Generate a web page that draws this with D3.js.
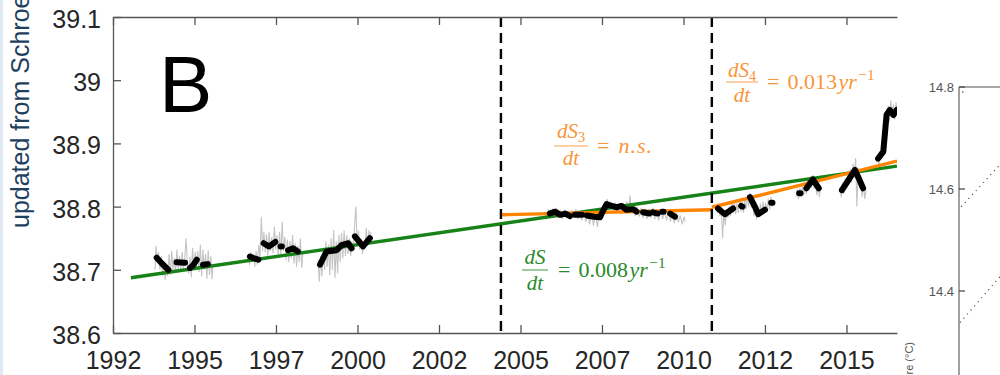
<!DOCTYPE html>
<html><head><meta charset="utf-8">
<script src="https://cdn.jsdelivr.net/npm/d3@7"></script>
<style>
html,body{margin:0;padding:0;background:#fff;}
svg{display:block;}
</style></head><body>
<svg id="chart" width="1000" height="375"></svg>
<script>
// ---------- DATA ----------
const xTickValues = [1992, 1994.5, 1997, 1999.5, 2002, 2004.5, 2007, 2009.5, 2012, 2014.5];
const xTickLabels = ["1992","1995","1997","2000","2002","2005","2007","2010","2012","2015"];
const yTickValues = [38.6, 38.7, 38.8, 38.9, 39.0, 39.1];
const yTickLabels = ["38.6","38.7","38.8","38.9","39","39.1"];
const breakYears = [2003.9, 2010.37];

// raw (thin grey) salinity record, null = gap
const rawSalinity = [
 [1993.29,38.700],[1993.32,38.738],[1993.36,38.712],[1993.40,38.728],[1993.44,38.700],[1993.48,38.722],[1993.52,38.690],[1993.56,38.712],
 [1993.60,38.684],[1993.64,38.705],[1993.68,38.690],[1993.72,38.725],[1993.76,38.692],[1993.80,38.730],[1993.84,38.700],[1993.88,38.718],
 [1993.92,38.695],[1993.96,38.732],[1994.00,38.700],[1994.04,38.722],[1994.08,38.698],[1994.12,38.728],[1994.16,38.702],[1994.20,38.718],
 [1994.24,38.750],[1994.28,38.712],[1994.32,38.694],[1994.36,38.720],[1994.40,38.688],[1994.44,38.735],[1994.48,38.700],[1994.52,38.728],
 [1994.56,38.705],[1994.60,38.730],[1994.64,38.696],[1994.68,38.740],[1994.72,38.690],[1994.76,38.732],[1994.80,38.700],[1994.84,38.725],
 [1994.88,38.686],[1994.92,38.731],[1994.96,38.692],[1995.00,38.722],[1995.04,38.685],[1995.07,38.710],
 null,
 [1996.15,38.722],[1996.19,38.708],[1996.23,38.728],[1996.27,38.712],[1996.31,38.725],[1996.35,38.705],[1996.39,38.730],[1996.43,38.708],
 [1996.47,38.740],[1996.51,38.720],[1996.55,38.784],[1996.59,38.730],[1996.63,38.760],[1996.67,38.728],[1996.71,38.756],[1996.75,38.722],
 [1996.79,38.760],[1996.83,38.730],[1996.87,38.752],[1996.91,38.726],[1996.95,38.768],[1996.99,38.732],[1997.03,38.755],[1997.07,38.720],
 [1997.11,38.760],[1997.15,38.722],[1997.19,38.776],[1997.23,38.730],[1997.27,38.752],[1997.31,38.715],[1997.35,38.748],[1997.39,38.712],
 [1997.43,38.745],[1997.47,38.718],[1997.51,38.755],[1997.55,38.710],[1997.59,38.742],[1997.63,38.705],[1997.67,38.738],[1997.71,38.712],
 [1997.75,38.750],[1997.79,38.703],[1997.83,38.730],
 null,
 [1998.29,38.715],[1998.33,38.681],[1998.37,38.722],[1998.41,38.690],[1998.45,38.735],[1998.49,38.700],[1998.53,38.745],[1998.57,38.705],
 [1998.61,38.740],[1998.65,38.692],[1998.69,38.750],[1998.73,38.700],[1998.77,38.763],[1998.81,38.687],[1998.85,38.745],[1998.89,38.694],
 [1998.93,38.755],[1998.97,38.712],[1999.01,38.758],[1999.05,38.718],[1999.09,38.762],[1999.13,38.722],[1999.17,38.755],[1999.21,38.725],
 [1999.25,38.750],[1999.29,38.722],[1999.33,38.745],[1999.37,38.730],[1999.41,38.770],[1999.45,38.800],[1999.49,38.740],[1999.53,38.762],
 [1999.57,38.732],[1999.61,38.750],[1999.65,38.725],[1999.69,38.742],[1999.73,38.735],[1999.77,38.766],[1999.81,38.738],[1999.85,38.762],
 [1999.89,38.742],[1999.91,38.760],
 null,
 [2005.25,38.790],[2005.30,38.782],[2005.36,38.796],[2005.42,38.784],[2005.48,38.795],[2005.54,38.786],[2005.60,38.798],[2005.66,38.782],
 [2005.72,38.793],[2005.78,38.780],[2005.84,38.795],[2005.90,38.783],[2005.96,38.792],[2006.02,38.780],[2006.08,38.794],[2006.14,38.782],
 [2006.20,38.796],[2006.26,38.780],[2006.32,38.792],[2006.38,38.778],[2006.44,38.794],[2006.50,38.776],[2006.56,38.790],[2006.62,38.772],
 [2006.68,38.792],[2006.74,38.770],[2006.80,38.788],[2006.86,38.768],[2006.92,38.790],[2006.98,38.778],[2007.04,38.800],[2007.10,38.790],
 [2007.16,38.812],[2007.22,38.795],[2007.28,38.808],[2007.34,38.792],[2007.40,38.806],[2007.46,38.790],[2007.52,38.804],[2007.58,38.788],
 [2007.64,38.806],[2007.70,38.790],[2007.76,38.808],[2007.82,38.792],[2007.86,38.818],[2007.90,38.790],[2007.96,38.802],[2008.02,38.785],
 [2008.08,38.800],[2008.14,38.784],[2008.20,38.798],[2008.26,38.782],[2008.32,38.797],[2008.38,38.780],[2008.44,38.796],[2008.50,38.782],
 [2008.56,38.798],[2008.62,38.780],[2008.68,38.795],[2008.74,38.778],[2008.80,38.796],[2008.86,38.780],[2008.92,38.794],[2008.98,38.778],
 [2009.04,38.795],[2009.10,38.776],[2009.16,38.792],[2009.22,38.774],[2009.28,38.790],[2009.34,38.775],[2009.40,38.786],[2009.46,38.772],
 [2009.52,38.784],[2009.55,38.776],
 null,
 [2010.50,38.800],[2010.54,38.790],[2010.58,38.805],[2010.62,38.785],[2010.66,38.798],[2010.70,38.750],[2010.74,38.792],[2010.78,38.770],
 [2010.82,38.795],[2010.86,38.782],[2010.90,38.800],[2010.94,38.785],[2010.98,38.805],[2011.02,38.790],[2011.06,38.808],[2011.10,38.788],
 [2011.14,38.805],[2011.18,38.790],[2011.22,38.810],[2011.26,38.792],[2011.30,38.808],[2011.34,38.790],[2011.38,38.812],[2011.42,38.795],
 [2011.46,38.818],[2011.50,38.800],[2011.54,38.822],[2011.58,38.798],[2011.62,38.812],[2011.66,38.785],[2011.70,38.805],[2011.74,38.780],
 [2011.78,38.800],[2011.82,38.784],[2011.86,38.805],[2011.90,38.788],[2011.94,38.808],[2011.98,38.790],[2012.02,38.806],[2012.06,38.792],
 [2012.10,38.812],[2012.14,38.795],[2012.18,38.815],[2012.22,38.800],[2012.26,38.810],
 null,
 [2012.95,38.815],[2012.99,38.828],[2013.03,38.812],[2013.07,38.830],[2013.11,38.815],[2013.15,38.832],[2013.19,38.818],[2013.23,38.836],
 [2013.27,38.820],[2013.31,38.842],[2013.35,38.825],[2013.39,38.848],[2013.43,38.830],[2013.47,38.850],[2013.51,38.828],[2013.55,38.845],
 [2013.59,38.818],[2013.63,38.838],[2013.67,38.815],[2013.70,38.830],
 null,
 [2014.30,38.830],[2014.34,38.815],[2014.38,38.838],[2014.42,38.820],[2014.46,38.845],[2014.50,38.828],[2014.54,38.852],[2014.58,38.835],
 [2014.62,38.860],[2014.66,38.838],[2014.70,38.868],[2014.74,38.845],[2014.78,38.877],[2014.82,38.800],[2014.86,38.862],[2014.90,38.830],
 [2014.94,38.850],[2014.98,38.815],[2015.02,38.838],[2015.06,38.812],[2015.10,38.826],
 null,
 [2015.42,38.870],[2015.46,38.882],[2015.50,38.865],[2015.54,38.888],[2015.58,38.875],[2015.62,38.895],[2015.66,38.885],[2015.70,38.930],
 [2015.74,38.915],[2015.78,38.960],[2015.82,38.935],[2015.86,38.968],[2015.90,38.942],[2015.94,38.962],[2015.98,38.938],[2016.02,38.965],
 [2016.05,38.945]
];

// smoothed (thick black) salinity record, null = gap
const smoothSalinity = [
 [1993.34,38.719],[1993.50,38.710],[1993.70,38.700], null,
 [1993.95,38.712],[1994.21,38.711], null,
 [1994.36,38.703],[1994.47,38.708],[1994.57,38.716], null,
 [1994.76,38.708],[1994.91,38.709], null,
 [1996.20,38.721],[1996.33,38.718],[1996.46,38.716], null,
 [1996.62,38.742],[1996.78,38.737],[1996.98,38.744], null,
 [1997.14,38.737],[1997.18,38.737], null,
 [1997.37,38.731],[1997.52,38.734],[1997.67,38.729], null,
 [1998.35,38.708],[1998.55,38.729],[1998.86,38.731],[1999.01,38.739],[1999.22,38.742],[1999.32,38.734], null,
 [1999.42,38.753],[1999.67,38.737],[1999.88,38.750], null,
 [2005.40,38.789],[2005.56,38.792],[2005.72,38.787],[2005.88,38.789],[2006.02,38.785], null,
 [2006.17,38.787],[2006.39,38.787], null,
 [2006.54,38.786],[2006.75,38.784],[2006.94,38.783],[2006.99,38.789],[2007.14,38.804],[2007.30,38.801],[2007.45,38.799],
 [2007.60,38.801],[2007.75,38.795],[2007.96,38.796],[2008.06,38.792], null,
 [2008.26,38.791],[2008.45,38.789], null,
 [2008.56,38.791],[2008.71,38.789], null,
 [2008.85,38.792],[2008.89,38.792], null,
 [2009.09,38.789],[2009.24,38.784], null,
 [2010.56,38.797],[2010.77,38.788],[2011.02,38.797], null,
 [2011.27,38.801],[2011.31,38.800], null,
 [2011.54,38.815],[2011.69,38.800],[2011.79,38.788],[2012.00,38.795], null,
 [2012.19,38.806],[2012.23,38.806], null,
 [2013.05,38.821],[2013.09,38.821], null,
 [2013.27,38.829],[2013.47,38.843],[2013.65,38.829], null,
 [2014.36,38.826],[2014.56,38.842],[2014.76,38.858],[2014.90,38.842],[2015.01,38.829], null,
 [2015.47,38.876],[2015.63,38.887],[2015.68,38.916],[2015.73,38.945],[2015.83,38.953],[2015.94,38.945],[2016.04,38.953]
];

const trendYears = [1992.55, 2016.05];
const trendValues = [38.6875, 38.864];
const fit3Years = [2003.9, 2010.37];
const fit3Values = [38.787, 38.795];
const fit4Years = [2010.37, 2016.05];
const fit4Values = [38.799, 38.872];

// partially visible inset panel (temperature)
const insetTickValues = [14.4, 14.6, 14.8];
const insetTickLabels = ["14.4", "14.6", "14.8"];
const insetLineA = [[0.03, 14.565], [1.0, 14.648]];
const insetLineB = [[0.0, 14.338], [1.0, 14.428]];
const insetDot = [[0.07, 14.79]];

// ---------- DRAW ----------
const svg = d3.select("#chart");
const W = 1000, H = 375;
const L = 113, R = 897, T = 17, B = 333;

const x = d3.scaleLinear().domain([1992, 2016.05]).range([L, R]);
const y = d3.scaleLinear().domain([38.6, 39.1]).range([B, T]);

const SANS = "'Liberation Sans', Arial, Helvetica, sans-serif";
const SERIF = "'Liberation Serif', 'Times New Roman', serif";

svg.append("rect").attr("width", W).attr("height", H).attr("fill", "#fff");
svg.append("rect").attr("x", 0).attr("y", 0).attr("width", 3).attr("height", H).attr("fill", "#dfe9f4");

svg.append("defs").append("clipPath").attr("id", "plotclip")
  .append("rect").attr("x", L).attr("y", T).attr("width", R - L).attr("height", B - T);

const plot = svg.append("g").attr("clip-path", "url(#plotclip)");

const line = d3.line().defined(d => d !== null).x(d => x(d[0])).y(d => y(d[1]));

plot.append("path").datum(rawSalinity).attr("d", line)
  .attr("fill", "none").attr("stroke", "#c4c4c4").attr("stroke-width", 1.1);

function fitPath(ys, vs, color) {
  plot.append("path").datum(ys.map((t, i) => [t, vs[i]])).attr("d", line)
    .attr("fill", "none").attr("stroke", color).attr("stroke-width", 3.4);
}
fitPath(trendYears, trendValues, "#178217");
fitPath(fit3Years, fit3Values, "#ff8400");
fitPath(fit4Years, fit4Values, "#ff8400");

plot.append("path").datum(smoothSalinity).attr("d", line)
  .attr("fill", "none").attr("stroke", "#000").attr("stroke-width", 6)
  .attr("stroke-linecap", "round").attr("stroke-linejoin", "round");

// dashed break lines
svg.selectAll(".brk").data(breakYears).enter().append("line")
  .attr("x1", d => x(d)).attr("x2", d => x(d)).attr("y1", T).attr("y2", B)
  .attr("stroke", "#000").attr("stroke-width", 2.4).attr("stroke-dasharray", "10,6");

// axes
const AX = "#555";
const gx = svg.append("g").attr("transform", `translate(0,${B})`)
  .call(d3.axisBottom(x).tickValues(xTickValues).tickFormat((d, i) => xTickLabels[i])
    .tickSizeInner(-8).tickSizeOuter(0));
gx.selectAll("text").attr("y", 36).attr("dy", 0);

const gt = svg.append("g").attr("transform", `translate(0,${T})`)
  .call(d3.axisTop(x).tickValues(xTickValues).tickFormat("").tickSizeInner(-8).tickSizeOuter(0));

const gy = svg.append("g").attr("transform", `translate(${L},0)`)
  .call(d3.axisLeft(y).tickValues(yTickValues).tickFormat((d, i) => yTickLabels[i])
    .tickSizeInner(-8).tickSizeOuter(0).tickPadding(12));
gy.selectAll("text").attr("dy", "0.42em");

[gx, gt, gy].forEach(g => {
  g.selectAll(".domain").attr("stroke", AX).attr("stroke-width", 1.3);
  g.selectAll(".tick line").attr("stroke", AX).attr("stroke-width", 1.3);
  g.selectAll("text").attr("fill", "#262626").style("font-family", SANS).style("font-size", "25px");
});

// y-axis title (cut off at top, as in the reference)
svg.append("text").attr("transform", "translate(29,228) rotate(-90)")
  .attr("text-anchor", "start").style("font-family", SANS).style("font-size", "25px")
  .attr("fill", "#1f3f5e").text("updated from Schroeder et al.");

// panel letter
svg.append("text").attr("x", 159).attr("y", 112).style("font-family", SANS)
  .style("font-size", "80px").attr("fill", "#000").text("B");

// math annotations
const MS = 21, RS = 22;
function fraction(cx, barY, halfW, numDy, denDy, numMain, numSub, color) {
  const g = svg.append("g").attr("fill", color).style("font-family", SERIF).style("font-size", MS + "px");
  const num = g.append("text").attr("x", cx).attr("y", barY - numDy).attr("text-anchor", "middle");
  num.append("tspan").style("font-style", "italic").text(numMain);
  if (numSub) num.append("tspan").attr("dy", 4).style("font-size", (MS * 0.68) + "px").text(numSub);
  g.append("text").attr("x", cx).attr("y", barY + denDy).attr("text-anchor", "middle")
    .style("font-style", "italic").text("dt");
  g.append("line").attr("x1", cx - halfW).attr("x2", cx + halfW).attr("y1", barY).attr("y2", barY)
    .attr("stroke", color).attr("stroke-width", 0.9);
}
function rhs(x0, baseY, value, unit, color) {
  const t = svg.append("text").attr("x", x0).attr("y", baseY).attr("fill", color)
    .style("font-family", SERIF).style("font-size", RS + "px");
  t.append("tspan").text("=");
  if (unit) {
    t.append("tspan").attr("dx", 8).text(value);
    t.append("tspan").attr("dx", 1.5).style("font-style", "italic").text("yr");
    t.append("tspan").attr("dx", 1.5).attr("dy", -9).style("font-size", (RS * 0.7) + "px").text("\u22121");
  } else {
    t.append("tspan").attr("dx", 9).style("font-style", "italic").style("letter-spacing", "1px").text("n.s.");
  }
}

const ORT = "#f7963a", GRT = "#2a8a2a";
fraction(571, 146, 17, 8, 19, "dS", "3", ORT);
rhs(597, 153, "n.s.", false, ORT);

fraction(742, 82, 16, 5, 20, "dS", "4", ORT);
rhs(767, 89, "0.013", true, ORT);

fraction(535, 270, 13, 6, 20, "dS", null, GRT);
rhs(558, 277, "0.008", true, GRT);

// ---------- inset panel (partially visible) ----------
const ix = d3.scaleLinear().domain([0, 1]).range([960, 1000]);
const iy = d3.scaleLinear().domain([14.4, 14.8]).range([291, 87]);
const IAX = "#8a8a8a";
svg.append("line").attr("x1", 959).attr("x2", 959).attr("y1", iy(14.8)).attr("y2", H)
  .attr("stroke", IAX).attr("stroke-width", 1.6);
svg.append("line").attr("x1", 959).attr("x2", W).attr("y1", iy(14.8)).attr("y2", iy(14.8))
  .attr("stroke", IAX).attr("stroke-width", 1.6);
const it = svg.selectAll(".itick").data(insetTickValues).enter().append("g");
it.append("line").attr("x1", 959).attr("x2", 965).attr("y1", d => iy(d)).attr("y2", d => iy(d))
  .attr("stroke", "#444").attr("stroke-width", 1.2);
it.append("text").attr("x", 954).attr("y", d => iy(d) + 5).attr("text-anchor", "end")
  .style("font-family", SANS).style("font-size", "13px").attr("fill", "#555")
  .text((d, i) => insetTickLabels[i]);

const iline = d3.line().x(d => ix(d[0])).y(d => iy(d[1]));
[insetLineA, insetLineB].forEach(dat => {
  svg.append("path").datum(dat).attr("d", iline).attr("fill", "none")
    .attr("stroke", "#555").attr("stroke-width", 1.2).attr("stroke-dasharray", "1.2,4.2");
});
svg.selectAll(".idot").data(insetDot).enter().append("circle")
  .attr("cx", d => ix(d[0])).attr("cy", d => iy(d[1])).attr("r", 0.8).attr("fill", "#555");

svg.append("text").attr("transform", "translate(913,342) rotate(-90)").attr("text-anchor", "end")
  .style("font-family", SANS).style("font-size", "11px").attr("fill", "#555").text("Temperature (\u00b0C)");
</script>
</body></html>
